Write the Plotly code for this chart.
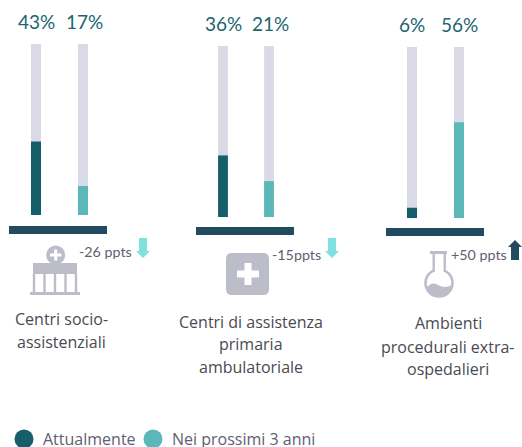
import plotly.graph_objects as go

W, H = 522, 447
series_now = "Attualmente"
series_next = "Nei prossimi 3 anni"
periods = [series_now, series_next]
values_group1 = [43, 17]
values_group2 = [36, 21]
values_group3 = [6, 56]
track_values = [100, 100]
deltas = ["-26 ppts", "-15ppts", "+50 ppts"]
label_group1 = ["Centri socio-", "assistenziali"]
label_group2 = ["Centri di assistenza", "primaria", "ambulatoriale"]
label_group3 = ["Ambienti", "procedurali extra-", "ospedalieri"]

FONT = "Lato"
LABEL_FONT = "Open Sans"
DARK, LIGHT, TRACK = "#155e6a", "#5cb8b8", "#dadae6"
BASE, ICON, CYAN = "#234b60", "#bcbdc9", "#7fe0e0"
COLORS = [DARK, LIGHT]

def px(x): return x / W
def py(y): return 1 - y / H

fig = go.Figure()
groups = [
    (values_group1, 12.5, 106.5, 44, 215, (9, 107, 226, 234)),
    (values_group2, 200, 292, 46, 217, (196, 294, 227, 235)),
    (values_group3, 388.5, 482.5, 47, 218, (386, 484, 228, 236)),
]
shapes, annos = [], []

def text(x, y, s, size, color, anchor="center", family=FONT):
    annos.append(dict(x=px(x), y=py(y), xref="paper", yref="paper", text=s, showarrow=False,
                      xanchor=anchor, yanchor="middle", font=dict(family=family, size=size, color=color)))

def path(d, fill, line=None, lw=0):
    shapes.append(dict(type="path", path=d, xref="paper", yref="paper", fillcolor=fill,
                       line=dict(color=line or fill, width=lw), layer="above"))

def P(*pts):
    return "M" + " L".join(f"{px(x):.5f},{py(y):.5f}" for x, y in pts) + " Z"

def box(x0, y0, x1, y1, fill):
    shapes.append(dict(type="rect", xref="paper", yref="paper", x0=px(x0), x1=px(x1), y0=py(y1), y1=py(y0),
                       fillcolor=fill, line=dict(width=0), layer="above"))

def circ(cx, cy, r, fill, line=None, lw=0):
    shapes.append(dict(type="circle", xref="paper", yref="paper", x0=px(cx - r), x1=px(cx + r), y0=py(cy + r), y1=py(cy - r),
                       fillcolor=fill, line=dict(color=line or fill, width=lw), layer="above"))

layout_axes = {}
for i, (vals, x0, x1, top, bottom, b) in enumerate(groups):
    sfx = "" if i == 0 else str(i + 1)
    fig.add_trace(go.Bar(x=periods, y=track_values, width=0.213, marker=dict(color=TRACK, line_width=0),
                         xaxis="x" + sfx, yaxis="y" + sfx, showlegend=False, hoverinfo="skip"))
    fig.add_trace(go.Bar(x=periods, y=vals, width=0.213, marker=dict(color=COLORS, line_width=0),
                         xaxis="x" + sfx, yaxis="y" + sfx, showlegend=False))
    layout_axes["xaxis" + sfx] = dict(domain=[px(x0), px(x1)], range=[-0.5, 1.5], visible=False, anchor="y" + sfx,
                                      type="category", categoryorder="array", categoryarray=periods)
    layout_axes["yaxis" + sfx] = dict(domain=[py(bottom), py(top)], range=[0, 100], visible=False, anchor="x" + sfx)
    box(b[0], b[2], b[1], b[3], BASE)

# percentage labels
for (cx, y, v) in [(36, 21, values_group1[0]), (84, 21, values_group1[1]),
                   (223, 23, values_group2[0]), (270, 23, values_group2[1]),
                   (412, 24, values_group3[0]), (459, 24, values_group3[1])]:
    text(cx, y, f"{v}%", 19, "#1b6470", family=LABEL_FONT if False else FONT)

# category labels
for cx, ys, lines in [(61, (319, 342), label_group1),
                      (251, (322, 344, 367), label_group2),
                      (448, (323, 347, 369), label_group3)]:
    for y, s in zip(ys, lines):
        text(cx, y, s, 16, "#4a4a52", family=LABEL_FONT)

# delta labels
text(105.5, 252, deltas[0], 14.3, "#5f6070")
text(296.5, 254, deltas[1], 14.3, "#5f6070")
text(479, 255, deltas[2], 14.3, "#5f6070")

# arrows
def arrow_down(x0, x1, y0, y1, c):
    m = (x0 + x1) / 2
    path(P((m - 4, y0), (m + 4, y0), (m + 4, y1 - 7), (x1, y1 - 7), (m, y1), (x0, y1 - 7), (m - 4, y1 - 7)), c)

def arrow_up(x0, x1, y0, y1, c):
    m = (x0 + x1) / 2
    path(P((m - 4, y1), (m + 4, y1), (m + 4, y0 + 7), (x1, y0 + 7), (m, y0), (x0, y0 + 7), (m - 4, y0 + 7)), c)

arrow_down(136, 150, 238, 258, CYAN)
arrow_down(325, 339, 238, 258, CYAN)
arrow_up(508, 522, 240, 260, BASE)

# icon 1: building
circ(55.7, 255, 9.5, ICON)
box(50, 253.5, 61.5, 256.5, "white")
box(54.2, 249.5, 57.2, 260.5, "white")
box(33, 263, 77, 274, ICON)
for xc in (34, 44.5, 55, 65.5, 76):
    box(xc - 1.2, 274, xc + 1.2, 292, ICON)
box(30, 292, 80, 295, ICON)

# icon 2: rounded square with plus
x0, x1, y0, y1, r = 226, 269, 253, 295, 6
path(f"M{px(x0+r)},{py(y0)} L{px(x1-r)},{py(y0)} Q{px(x1)},{py(y0)} {px(x1)},{py(y0+r)} "
     f"L{px(x1)},{py(y1-r)} Q{px(x1)},{py(y1)} {px(x1-r)},{py(y1)} L{px(x0+r)},{py(y1)} "
     f"Q{px(x0)},{py(y1)} {px(x0)},{py(y1-r)} L{px(x0)},{py(y0+r)} Q{px(x0)},{py(y0)} {px(x0+r)},{py(y0)} Z", ICON)
box(237, 270.5, 259, 277.5, "white")
box(244.5, 263, 251.5, 285, "white")

# icon 3: flask
circ(439, 283, 13.5, "white", ICON, 2.6)
box(432.5, 254, 434.9, 272, ICON)
box(443.5, 254, 445.9, 272, ICON)
box(430, 251, 447, 254, ICON)
box(434.9, 268, 443.5, 275, "white")
path(f"M{px(426.5)},{py(288)} Q{px(432)},{py(281)} {px(438)},{py(285)} Q{px(445)},{py(289)} {px(451.5)},{py(285)} "
     f"Q{px(450)},{py(296)} {px(439)},{py(296)} Q{px(428)},{py(296)} {px(426.5)},{py(288)} Z", ICON)

# legend
circ(24, 439, 9.5, DARK)
circ(153, 439, 9.5, LIGHT)
text(41, 439, series_now, 16, "#5f6070", "left", LABEL_FONT)
text(170, 439, series_next, 16, "#5f6070", "left", LABEL_FONT)

fig.update_layout(width=W, height=H, margin=dict(l=0, r=0, t=0, b=0), autosize=False,
                  paper_bgcolor="white", plot_bgcolor="white", barmode="overlay",
                  shapes=shapes, annotations=annos, showlegend=False, **layout_axes)
fig.write_html("out.html", config={"displayModeBar": False},
               post_script="document.body.style.margin='0';document.body.style.overflow='hidden';")
